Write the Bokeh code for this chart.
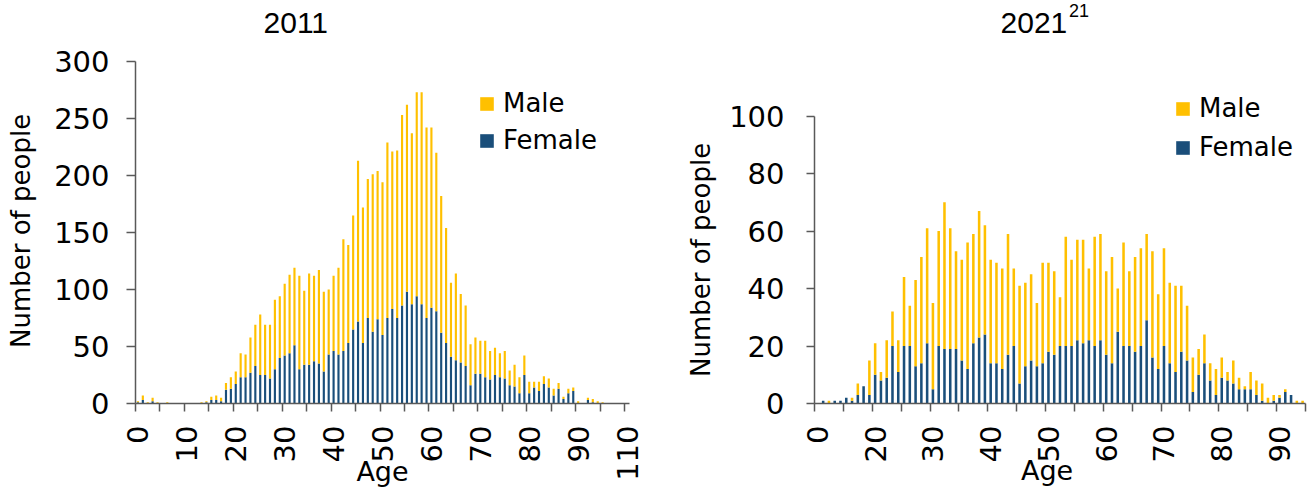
from bokeh.plotting import figure
from bokeh.models import (ColumnDataSource, FixedTicker, Legend, LegendItem, Label, Range1d)
from bokeh.layouts import row
from bokeh.embed import file_html
from bokeh.resources import INLINE

# ---------------- data ----------------
ages_2011 = list(range(0, 100)) + [110]
female_2011 = [1, 3, 0, 2, 0, 0, 0, 0, 0, 0, 0, 0, 0, 0, 1, 3, 3, 2, 12, 13,
               17, 23, 23, 27, 33, 25, 25, 22, 30, 40, 42, 44, 51, 30, 34, 34, 37, 35, 28, 43,
               46, 43, 46, 53, 65, 72, 53, 75, 63, 74, 60, 75, 83, 75, 86, 98, 87, 94, 87, 75,
               84, 81, 62, 53, 41, 38, 36, 33, 16, 26, 26, 23, 21, 25, 23, 22, 16, 15, 9, 25,
               9, 14, 11, 17, 14, 7, 13, 4, 9, 11, 0, 0, 3, 1, 0, 0, 0, 0, 0, 0, 0]
male_2011 = [1, 4, 1, 3, 1, 0, 1, 0, 0, 0, 0, 0, 0, 1, 1, 3, 4, 3, 6, 10,
             11, 21, 20, 31, 36, 53, 44, 47, 61, 54, 63, 69, 68, 82, 65, 80, 75, 82, 70, 57,
             66, 76, 98, 86, 100, 141, 119, 122, 138, 130, 134, 154, 138, 147, 167, 164, 150, 179, 186, 167,
             158, 139, 120, 101, 65, 76, 60, 53, 36, 32, 29, 32, 25, 24, 21, 24, 13, 19, 14, 17,
             10, 5, 8, 7, 8, 6, 5, 2, 4, 3, 2, 0, 2, 3, 2, 1, 0, 0, 0, 0, 0]

ages_2021 = [0, 3, 5, 8, 11, 13, 15, 16, 18, 19] + list(range(20, 95))
female_2021 = [0, 1, 0, 1, 1, 2, 1, 3, 6, 3,
               10, 8, 9, 20, 11, 20, 20, 13, 14, 21, 5, 20, 19, 19, 19, 15, 12, 21, 23, 24,
               14, 14, 12, 17, 20, 7, 13, 15, 13, 14, 18, 17, 20, 20, 20, 22, 21, 22, 20, 22,
               17, 14, 25, 20, 20, 18, 20, 29, 16, 12, 20, 14, 11, 18, 15, 4, 10, 14, 8, 3,
               9, 8, 7, 5, 5, 5, 3, 1, 0, 1, 2, 4, 3, 0, 0]
male_2021 = [0, 0, 1, 0, 0, 0, 1, 4, 0, 12,
             11, 3, 13, 12, 11, 24, 14, 30, 37, 40, 30, 40, 51, 42, 34, 35, 44, 38, 44, 38,
             36, 35, 35, 42, 27, 34, 29, 30, 22, 35, 31, 29, 17, 38, 30, 35, 36, 25, 38, 37,
             29, 37, 15, 36, 26, 33, 34, 30, 37, 26, 34, 28, 30, 23, 19, 12, 9, 10, 6, 9,
             7, 3, 8, 4, 1, 6, 5, 6, 2, 2, 1, 1, 0, 1, 1]

titles = ["2011", "2021"]
title_note = "21"
series_names = ["Male", "Female"]
y_label = "Number of people"
x_label = "Age"
y_ticks_2011 = [0, 50, 100, 150, 200, 250, 300]
y_ticks_2021 = [0, 20, 40, 60, 80, 100]

# ---------------- style / layout ----------------
MALE = "#FFC000"
FEMALE = "#1A4E7A"
AXIS = "#595959"
FONT = "DejaVu Sans"
TFONT = "Liberation Sans"
TICK_FS = "29px"
NB = "\u00a0"           # non-breaking space, used to nudge centred axis titles
F_H, B_BOT = 403, 86    # frames run from the top of the page down to y = 403


def make_fig(ages, female, male, yticks, ymax_axis, px_per_unit, b_left, f_w, b_right,
             tick_out, tick_standoff, ylab_text, ylab_standoff, xlab_text, age_standoff):
    n = len(ages)
    src = ColumnDataSource(dict(x=list(range(n)), female=female, male=male))
    p = figure(frame_width=f_w, frame_height=F_H,
               min_border_left=b_left, min_border_right=b_right,
               min_border_top=0, min_border_bottom=B_BOT,
               x_range=Range1d(-0.5, n - 0.5), y_range=Range1d(0, F_H / px_per_unit),
               output_backend="svg", toolbar_location=None)
    rs = p.vbar_stack(["female", "male"], x="x", width=0.44, source=src,
                      fill_color=[FEMALE, MALE], line_color=None)
    p.outline_line_color = None
    p.xgrid.grid_line_color = None
    p.ygrid.grid_line_color = None
    p.background_fill_color = "white"
    p.border_fill_color = "white"

    lab_idx = list(range(0, n, 10))
    xa = p.xaxis[0]
    xa.ticker = FixedTicker(ticks=lab_idx,
                            minor_ticks=[i - 0.5 for i in range(0, n + 1, 5)])
    xa.major_label_overrides = {i: str(ages[i]) for i in lab_idx}
    xa.major_label_orientation = 3.14159265 / 2
    xa.major_tick_out = 0
    xa.major_tick_in = 0
    xa.minor_tick_out = 8
    xa.minor_tick_in = 0
    xa.minor_tick_line_color = AXIS
    xa.minor_tick_line_width = 1.5
    xa.axis_line_color = AXIS
    xa.axis_line_width = 1.5
    xa.major_label_standoff = 14
    xa.major_label_text_font = FONT
    xa.major_label_text_font_size = TICK_FS
    xa.major_label_text_color = "black"
    xa.axis_label = xlab_text
    xa.axis_label_text_font = FONT
    xa.axis_label_text_font_size = "27px"
    xa.axis_label_text_font_style = "normal"
    xa.axis_label_text_color = "black"
    xa.axis_label_standoff = age_standoff

    ya = p.yaxis[0]
    ya.ticker = FixedTicker(ticks=yticks, minor_ticks=[])
    ya.bounds = (0, ymax_axis)
    ya.major_tick_out = tick_out
    ya.major_tick_in = 0
    ya.major_tick_line_color = AXIS
    ya.major_tick_line_width = 1.5
    ya.axis_line_color = AXIS
    ya.axis_line_width = 1.5
    ya.major_label_standoff = tick_standoff
    ya.major_label_text_font = FONT
    ya.major_label_text_font_size = TICK_FS
    ya.major_label_text_color = "black"
    ya.axis_label = ylab_text
    ya.axis_label_text_font = FONT
    ya.axis_label_text_font_size = "26px"
    ya.axis_label_text_font_style = "normal"
    ya.axis_label_text_color = "black"
    ya.axis_label_standoff = ylab_standoff
    return p, rs


# left figure: page x 0..652, frame 135..629, 1.14 px per person
p1, rs1 = make_fig(ages_2011, female_2011, male_2011, y_ticks_2011, 300, 1.14,
                   135, 494, 23, 9, 17, y_label + NB * 7, 15, x_label, -28)
# right figure: page x 652..1309, frame 814..1305, 2.875 px per person
p2, rs2 = make_fig(ages_2021, female_2021, male_2021, y_ticks_2021, 100, 2.875,
                   162, 491, 4, 8, 22, y_label + NB * 14, 10, x_label + NB * 3, -10)


def legend_for(rs, loc, spacing):
    return Legend(items=[LegendItem(label=series_names[0], renderers=[rs[1]]),
                         LegendItem(label=series_names[1], renderers=[rs[0]])],
                  location=loc, margin=0, padding=0, spacing=spacing,
                  glyph_width=17, glyph_height=17, label_height=17,
                  label_standoff=8, label_text_font=FONT, label_text_font_size="26px",
                  label_text_color="black", border_line_color=None,
                  background_fill_alpha=0)


p1.add_layout(legend_for(rs1, (343, 248), 7))
p2.add_layout(legend_for(rs2, (360, 241), 9))


# titles drawn inside the (tall) frames; page pixel -> data helpers
def to_data(fig_left, b_left, f_w, n, px_per_unit):
    fl = fig_left + b_left
    def fx(px):
        return (px - fl) / (f_w / n) - 0.5
    def fy(py):
        return (F_H - py) / px_per_unit
    return fx, fy


xL, yL = to_data(0, 135, 494, len(ages_2011), 1.14)
xR, yR = to_data(652, 162, 491, len(ages_2021), 2.875)


def add_label(p, x, y, text, size, align="center"):
    p.add_layout(Label(x=x, y=y, text=text, text_font=TFONT, text_font_size=size,
                       text_align=align, text_baseline="alphabetic", text_color="black"))


add_label(p1, xL(295.3), yL(22.3), titles[0], "30px")
add_label(p2, xR(1033.4), yR(22.3), titles[1], "30px")
add_label(p2, xR(1068.5), yR(10.0), title_note, "18px", align="left")

layout = row(p1, p2)
open("out.html", "w").write(file_html(layout, INLINE))
